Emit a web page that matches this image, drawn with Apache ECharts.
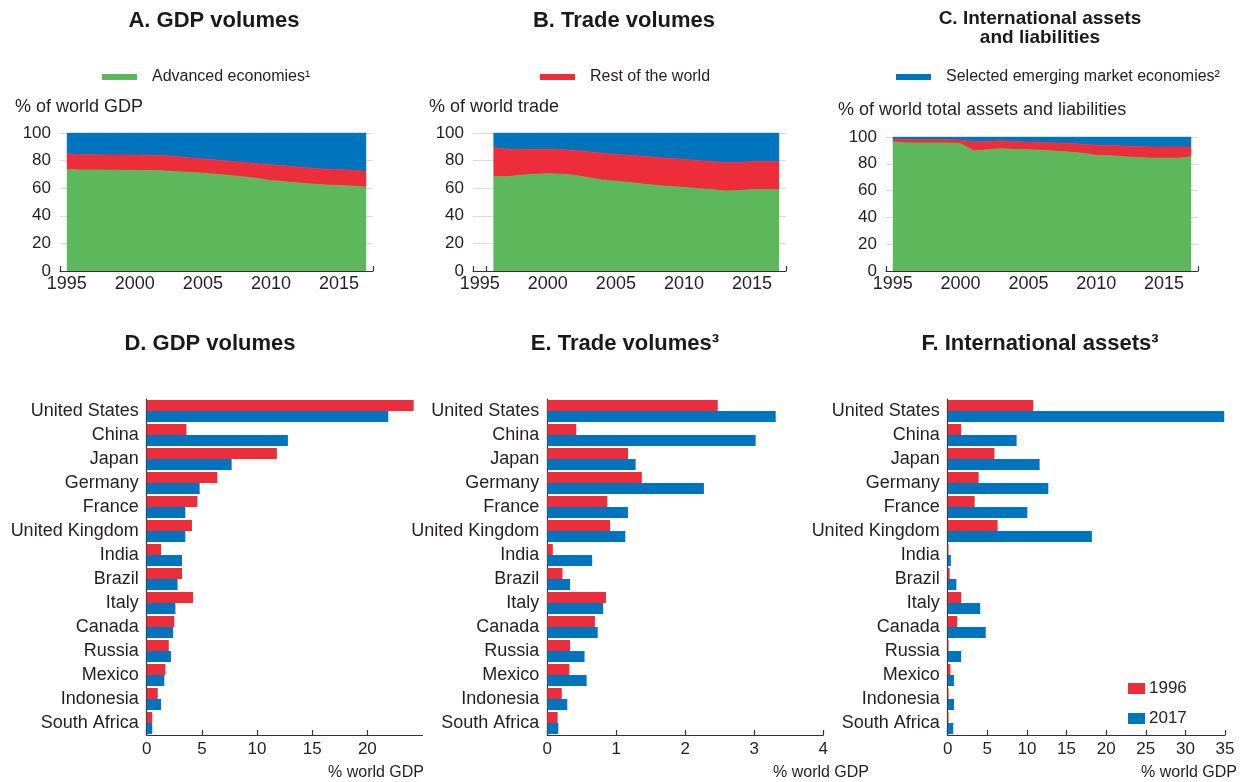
<!DOCTYPE html>
<html>
<head>
<meta charset="utf-8">
<script src="https://cdn.jsdelivr.net/npm/echarts@6/dist/echarts.min.js"></script>
<style>
  html, body { margin: 0; padding: 0; background: #fff; }
  #chart { width: 1247px; height: 782px; }
</style>
</head>
<body>
<div id="chart"></div>
<script>
// ---- Shares of world totals (%), stacked: advanced / rest of world / selected EMEs ----
const yearsGdp = [1995, 1996, 1997, 1998, 1999, 2000, 2001, 2002, 2003, 2004, 2005, 2006,
                  2007, 2008, 2009, 2010, 2011, 2012, 2013, 2014, 2015, 2016, 2017];
const gdpAdvanced = [73.5, 73.2, 73.2, 73.1, 73.0, 72.9, 72.8, 72.6, 72.0, 71.5, 70.9, 70.0,
                     69.2, 68.2, 67.0, 65.6, 64.7, 63.8, 63.0, 62.4, 62.0, 61.5, 60.8];
const gdpRest     = [11.3, 11.1, 11.0, 11.0, 11.0, 11.1, 11.1, 11.1, 11.0, 10.5, 10.3, 10.4,
                     10.3, 10.5, 10.8, 11.4, 11.5, 11.5, 11.4, 11.4, 11.5, 11.5, 11.4];
const gdpEme      = [15.2, 15.7, 15.8, 15.9, 16.0, 16.0, 16.1, 16.3, 17.0, 18.0, 18.8, 19.6,
                     20.5, 21.3, 22.2, 23.0, 23.8, 24.7, 25.6, 26.2, 26.5, 27.0, 27.8];

const yearsTrade = [1996, 1997, 1998, 1999, 2000, 2001, 2002, 2003, 2004, 2005, 2006,
                    2007, 2008, 2009, 2010, 2011, 2012, 2013, 2014, 2015, 2016, 2017];
const tradeAdvanced = [68.4, 68.3, 69.3, 70.1, 70.5, 70.2, 69.3, 67.6, 66.0, 65.1, 64.2,
                       63.0, 62.0, 61.3, 60.6, 59.7, 59.0, 58.0, 58.2, 59.1, 59.0, 58.8];
const tradeRest     = [21.2, 19.9, 18.9, 18.2, 17.8, 17.8, 18.1, 18.9, 19.4, 19.3, 19.6,
                       20.2, 20.3, 20.2, 20.3, 20.3, 20.3, 20.5, 20.4, 20.3, 20.4, 20.3];
const tradeEme      = [10.4, 11.8, 11.8, 11.7, 11.7, 12.0, 12.6, 13.5, 14.6, 15.6, 16.2,
                       16.8, 17.7, 18.5, 19.1, 20.0, 20.7, 21.5, 21.4, 20.6, 20.6, 20.9];

const yearsAssets = [1995, 1996, 1997, 1998, 1999, 2000, 2001, 2002, 2003, 2004, 2005, 2006,
                     2007, 2008, 2009, 2010, 2011, 2012, 2013, 2014, 2015, 2016, 2017];
const assetsAdvanced = [96.3, 95.6, 95.6, 95.6, 95.5, 95.0, 89.5, 90.5, 91.3, 90.6, 90.4, 90.1,
                        89.4, 88.8, 87.8, 86.2, 86.1, 85.3, 84.7, 84.3, 84.2, 84.1, 85.3];
const assetsRest     = [2.0, 2.6, 2.5, 2.5, 2.5, 2.8, 6.8, 6.3, 5.9, 5.8, 5.8, 5.8,
                        6.2, 6.5, 6.7, 7.7, 7.5, 8.0, 8.3, 8.3, 8.3, 8.4, 7.2];
const assetsEme      = [1.7, 1.8, 1.9, 1.9, 2.0, 2.2, 3.7, 3.2, 2.8, 3.6, 3.8, 4.1,
                        4.4, 4.7, 5.5, 6.1, 6.4, 6.7, 7.0, 7.4, 7.5, 7.5, 7.5];

const yearTickLabels = [1995, 2000, 2005, 2010, 2015];

// ---- Country shares (% of world GDP), 1996 vs 2017 ----
const countries = ['United States', 'China', 'Japan', 'Germany', 'France', 'United Kingdom',
                   'India', 'Brazil', 'Italy', 'Canada', 'Russia', 'Mexico', 'Indonesia', 'South Africa'];
const gdp1996   = [24.2, 3.6, 11.8, 6.4, 4.6, 4.1, 1.3, 3.2, 4.2, 2.5, 2.0, 1.7, 1.0, 0.5];
const gdp2017   = [21.9, 12.8, 7.7, 4.8, 3.5, 3.5, 3.2, 2.8, 2.6, 2.4, 2.2, 1.6, 1.3, 0.5];
const trade1996 = [2.47, 0.42, 1.17, 1.37, 0.87, 0.91, 0.08, 0.22, 0.85, 0.69, 0.33, 0.32, 0.21, 0.15];
const trade2017 = [3.31, 3.02, 1.28, 2.27, 1.17, 1.13, 0.65, 0.33, 0.81, 0.73, 0.54, 0.57, 0.29, 0.16];
const assets1996 = [10.8, 1.7, 5.9, 3.9, 3.4, 6.3, 0.1, 0.25, 1.7, 1.2, 0.1, 0.35, 0.1, 0.1];
const assets2017 = [34.9, 8.7, 11.6, 12.7, 10.05, 18.2, 0.4, 1.1, 4.1, 4.8, 1.7, 0.8, 0.8, 0.7];

// ---- Styling ----
const FONT = '"Liberation Sans", Arial, Helvetica, sans-serif';
const TXT = '#231f20';
const GREEN = '#5cb85a';
const RED = '#ee2d3a';
const BLUE = '#0075be';
const NAME_ADV = 'Advanced economies\u00b9';
const NAME_REST = 'Rest of the world';
const NAME_EME = 'Selected emerging market economies\u00b2';

// rows are [share, year]; the share comes first so the stack runs on the value (y) dimension
const rows = (xs, ys) => xs.map((x, i) => [ys[i], x]);

const topPanels = [
  { years: yearsGdp,    adv: gdpAdvanced,    rest: gdpRest,    eme: gdpEme,
    grid: { left: 60,  top: 133, width: 313, height: 138 }, ticks: [1994.5, 2017.5] },
  { years: yearsTrade,  adv: tradeAdvanced,  rest: tradeRest,  eme: tradeEme,
    grid: { left: 473, top: 133, width: 313, height: 138 }, ticks: [1994.5, 1995.5, 2017.5] },
  { years: yearsAssets, adv: assetsAdvanced, rest: assetsRest, eme: assetsEme,
    grid: { left: 886, top: 137, width: 312, height: 134 }, ticks: [1994.5, 2017.5] }
];

const barPanels = [
  { a: gdp1996,    b: gdp2017,    max: 25, interval: 5, showMax: false,
    grid: { left: 146.7, top: 399, width: 275.8, height: 336 } },
  { a: trade1996,  b: trade2017,  max: 4,  interval: 1, showMax: true,
    grid: { left: 547.3, top: 399, width: 276,   height: 336 } },
  { a: assets1996, b: assets2017, max: 35, interval: 5, showMax: true,
    grid: { left: 947.7, top: 399, width: 277.3, height: 336 } }
];

const grid = [], xAxis = [], yAxis = [], series = [];

topPanels.forEach((p, i) => {
  grid.push(Object.assign({ containLabel: false }, p.grid));
  xAxis.push({
    gridIndex: i, type: 'value', min: 1994.5, max: 2017.5,
    axisLine: { show: true, lineStyle: { color: '#333', width: 1.2 } },
    axisTick: { show: true, inside: true, length: 5, customValues: p.ticks,
                lineStyle: { color: '#333', width: 1.2 } },
    axisLabel: { customValues: yearTickLabels, formatter: v => String(v),
                 fontSize: 18, color: TXT, fontFamily: FONT, margin: 4 },
    splitLine: { show: false }
  });
  yAxis.push({
    gridIndex: i, type: 'value', min: 0, max: 100, interval: 20,
    axisLine: { show: false }, axisTick: { show: false },
    axisLabel: { fontSize: 17, color: TXT, fontFamily: FONT, margin: 9 },
    splitLine: { lineStyle: { color: '#dcdcdc', width: 1 } }
  });
  [[NAME_ADV, p.adv, GREEN], [NAME_REST, p.rest, RED], [NAME_EME, p.eme, BLUE]].forEach(([name, vals, col]) => {
    series.push({
      name, type: 'line', xAxisIndex: i, yAxisIndex: i, stack: 'share' + i,
      data: rows(p.years, vals), encode: { x: 1, y: 0 },
      showSymbol: false, symbol: 'none', silent: true,
      color: col, lineStyle: { width: 0.8, color: col }, areaStyle: { color: col, opacity: 1 }
    });
  });
});

barPanels.forEach((p, j) => {
  const g = 3 + j;
  grid.push(Object.assign({ containLabel: false }, p.grid));
  xAxis.push({
    gridIndex: g, type: 'value', min: 0, max: p.max, interval: p.interval,
    axisLine: { show: true, lineStyle: { color: '#333', width: 1.2 } },
    axisTick: { show: true, inside: true, length: 5, lineStyle: { color: '#333', width: 1.2 } },
    axisLabel: { fontSize: 17, color: TXT, fontFamily: FONT, margin: 6, showMaxLabel: p.showMax },
    splitLine: { show: false }
  });
  yAxis.push({
    gridIndex: g, type: 'category', data: countries, inverse: true,
    axisLine: { show: true, lineStyle: { color: '#333', width: 1.2 } },
    axisTick: { show: false },
    axisLabel: { fontSize: 18, color: TXT, fontFamily: FONT, margin: 8 },
    splitLine: { show: false }
  });
  [['1996', p.a, RED], ['2017', p.b, BLUE]].forEach(([name, vals, col]) => {
    series.push({
      name, type: 'bar', xAxisIndex: g, yAxisIndex: g, data: vals,
      barWidth: 11, barGap: '0%', color: col, itemStyle: { color: col }, silent: true
    });
  });
});

const legendBase = {
  icon: 'rect', itemWidth: 35, itemHeight: 6, padding: 0, selectedMode: false,
  textStyle: { fontSize: 16, color: TXT, fontFamily: FONT, padding: [0, 0, 0, 10] }
};

const text = (x, y, str, size, opts) => ({
  type: 'text', x, y, silent: true,
  style: Object.assign({ text: str, fontSize: size, fontFamily: FONT, fill: TXT,
                         align: 'left', verticalAlign: 'middle' }, opts || {})
});

const option = {
  animation: false,
  backgroundColor: '#fff',
  grid, xAxis, yAxis, series,
  legend: [
    Object.assign({}, legendBase, { data: [NAME_ADV],  left: 102, top: 69 }),
    Object.assign({}, legendBase, { data: [NAME_REST], left: 540, top: 69 }),
    Object.assign({}, legendBase, { data: [NAME_EME],  left: 896, top: 69 }),
    {
      data: ['1996', '2017'], orient: 'vertical', left: 1128, top: 680, padding: 0,
      icon: 'rect', itemWidth: 17, itemHeight: 11, itemGap: 13, selectedMode: false,
      textStyle: { fontSize: 17, color: TXT, fontFamily: FONT, lineHeight: 17, padding: [0, 0, 0, -1] }
    }
  ],
  graphic: [
    // panel titles
    text(214, 21, 'A. GDP volumes', 22, { fontWeight: 'bold', align: 'center', fill: '#1a1a1a' }),
    text(624, 21, 'B. Trade volumes', 22, { fontWeight: 'bold', align: 'center', fill: '#1a1a1a' }),
    text(1040, 28, 'C. International assets\nand liabilities', 19,
         { fontWeight: 'bold', align: 'center', lineHeight: 19, fill: '#1a1a1a' }),
    text(210, 344, 'D. GDP volumes', 22, { fontWeight: 'bold', align: 'center', fill: '#1a1a1a' }),
    text(625, 344, 'E. Trade volumes\u00b3', 22, { fontWeight: 'bold', align: 'center', fill: '#1a1a1a' }),
    text(1040, 344, 'F. International assets\u00b3', 22, { fontWeight: 'bold', align: 'center', fill: '#1a1a1a' }),
    // unit labels
    text(15, 107, '% of world GDP', 18),
    text(429, 107, '% of world trade', 18),
    text(838, 110, '% of world total assets and liabilities', 18),
    text(328, 773, '% world GDP', 16),
    text(773, 773, '% world GDP', 16),
    text(1141, 773, '% world GDP', 16)
  ]
};

const chart = echarts.init(document.getElementById('chart'), null, { renderer: 'canvas' });
chart.setOption(option);
</script>
</body>
</html>
